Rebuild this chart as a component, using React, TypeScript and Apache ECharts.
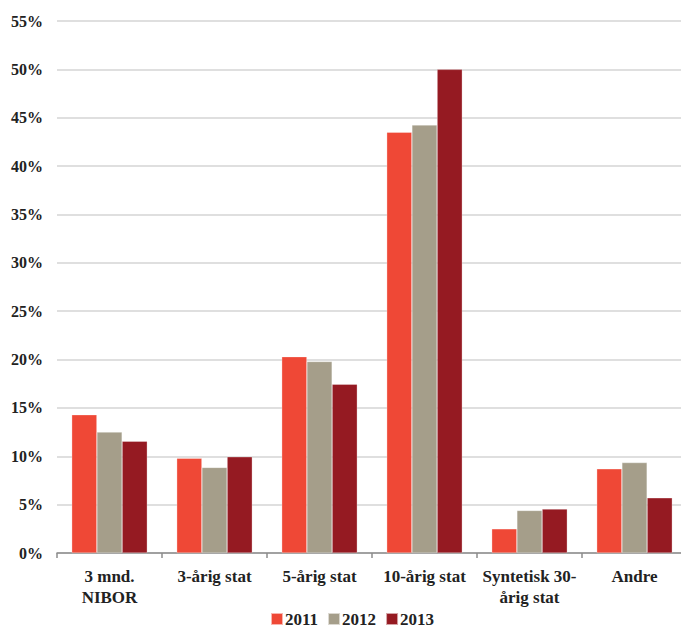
import React, { useEffect, useRef } from "react";
import * as echarts from "echarts";

const categories = [
  "3 mnd.\nNIBOR",
  "3-årig stat",
  "5-årig stat",
  "10-årig stat",
  "Syntetisk 30-\nårig stat",
  "Andre",
];

const seriesNames = ["2011", "2012", "2013"];
const values2011 = [14.3, 9.8, 20.3, 43.5, 2.5, 8.7];
const values2012 = [12.5, 8.85, 19.8, 44.25, 4.4, 9.35];
const values2013 = [11.55, 9.95, 17.45, 50.0, 4.55, 5.7];
const colors = ["#EF4836", "#A59E8A", "#951A22"];

const yMin = 0;
const yMax = 55;
const yStep = 5;

const FONT = "Liberation Serif";

export default function App() {
  const ref = useRef<HTMLDivElement>(null);

  useEffect(() => {
    if (!ref.current) return;
    const chart = echarts.init(ref.current, null, { renderer: "svg" });
    const data = [values2011, values2012, values2013];
    chart.setOption({
      animation: false,
      backgroundColor: "#ffffff",
      textStyle: { fontFamily: FONT },
      grid: {
        left: 57,
        width: 630,
        top: 21,
        bottom: 82,
        containLabel: false,
        outerBoundsMode: "none",
      },
      legend: {
        data: seriesNames,
        left: 270,
        top: 610,
        itemWidth: 12,
        itemHeight: 12,
        itemGap: 9,
        icon: "rect",
        padding: 0,
        textStyle: {
          fontFamily: FONT,
          fontSize: 17,
          fontWeight: "bold",
          color: "#222",
          lineHeight: 18,
          padding: [0, 0, 0, -3],
        },
      },
      xAxis: {
        type: "category",
        data: categories,
        axisLine: { lineStyle: { color: "#8c8c8c", width: 1.5 } },
        axisTick: { show: true, length: 5, lineStyle: { color: "#8c8c8c", width: 1.5 } },
        axisLabel: {
          interval: 0,
          margin: 13,
          fontFamily: FONT,
          fontSize: 17,
          fontWeight: "bold",
          color: "#222",
          lineHeight: 21,
        },
      },
      yAxis: {
        type: "value",
        min: yMin,
        max: yMax,
        interval: yStep,
        axisLine: { show: false },
        axisTick: { show: false },
        splitLine: { lineStyle: { color: "#d4d4d4", width: 1.5 } },
        axisLabel: {
          margin: 14,
          fontFamily: FONT,
          fontSize: 16,
          fontWeight: "bold",
          color: "#222",
          formatter: (v: number) => `${v}%`,
        },
      },
      series: seriesNames.map((name, i) => ({
        name,
        type: "bar",
        data: data[i],
        barCategoryGap: "28%",
        barGap: "0%",
        itemStyle: {
          color: colors[i],
          borderColor: "rgba(255,255,255,0.6)",
          borderWidth: 0.5,
        },
      })),
    });
    return () => chart.dispose();
  }, []);

  return (
    <div
      ref={ref}
      style={{ position: "fixed", left: 0, top: 0, width: 681, height: 635 }}
    />
  );
}
